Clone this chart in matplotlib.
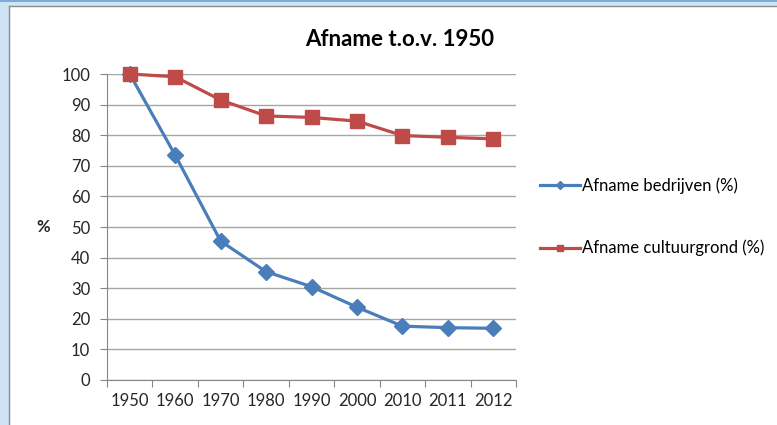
import matplotlib.pyplot as plt
from matplotlib.patches import Rectangle
from matplotlib.lines import Line2D

jaren = ["1950", "1960", "1970", "1980", "1990", "2000", "2010", "2011", "2012"]
bedrijven = [100, 73.5, 45.4, 35.4, 30.5, 23.8, 17.6, 17.1, 16.9]
cultuurgrond = [100, 99.1, 91.5, 86.3, 85.8, 84.6, 79.9, 79.3, 78.8]

plt.rcParams['font.family'] = ['Lato', 'DejaVu Sans']

fig = plt.figure(figsize=(7.77, 4.25), dpi=100)
W, H = 777, 425

# screenshot frame: light blue band left and top, grey border of chart area
fig.patches.append(Rectangle((0, 0), 8/W, 1, transform=fig.transFigure, color="#cfe3f7", zorder=0))
fig.patches.append(Rectangle((0, 1-5/H), 1, 5/H, transform=fig.transFigure, color="#cfe3f7", zorder=0))
fig.lines.append(Line2D([0, 1], [1-1/H, 1-1/H], transform=fig.transFigure, color="#6b9fd6", lw=1.2))
fig.lines.append(Line2D([9/W, 9/W], [0, 1-6/H], transform=fig.transFigure, color="#8c8c8c", lw=1.0))
fig.lines.append(Line2D([9/W, 1], [1-6/H, 1-6/H], transform=fig.transFigure, color="#8c8c8c", lw=1.0))

ax = fig.add_axes([107/W, 1-380/H, (516-107)/W, (380-74)/H])
x = [i + 0.5 for i in range(len(jaren))]

ax.plot(x, bedrijven, color="#4a7ebb", lw=2.3, marker="D", markersize=8,
        label="Afname bedrijven (%)", clip_on=False, zorder=3)
ax.plot(x, cultuurgrond, color="#be4b48", lw=2.3, marker="s", markersize=9.5,
        label="Afname cultuurgrond (%)", clip_on=False, zorder=4)

ax.set_xlim(0, len(jaren))
ax.set_ylim(0, 100)
ax.set_yticks(range(0, 101, 10))
ax.set_xticks(range(len(jaren) + 1))
ax.set_xticklabels([])
ax.set_xticks(x, minor=True)
ax.set_xticklabels(jaren, minor=True)
ax.tick_params(axis="x", which="minor", length=0, pad=9, labelsize=12, colors="#262626")
ax.tick_params(axis="x", which="major", length=5, color="#868686", direction="out")
ax.tick_params(axis="y", length=5, color="#868686", direction="out", labelsize=12,
               labelcolor="#262626", pad=7)
ax.grid(axis="y", color="#a6a6a6", lw=1.0)
ax.set_axisbelow(True)
for s in ["top", "right"]:
    ax.spines[s].set_visible(False)
for s in ["left", "bottom"]:
    ax.spines[s].set_color("#868686")

ax.set_ylabel("%", rotation=0, fontsize=12, fontweight="bold", va="center", color="#262626")
ax.yaxis.set_label_coords(-0.155, 0.5)

fig.text(400/W, 1-40/H, "Afname t.o.v. 1950", ha="center", va="center",
         fontsize=16, fontweight="bold", color="#000000")

ax.legend(loc="center left", bbox_to_anchor=(533/W, 1-217/H), bbox_transform=fig.transFigure,
          frameon=False, fontsize=12, handlelength=2.4, labelspacing=2.75, handletextpad=0.15,
          markerscale=0.5, borderaxespad=0)

fig.savefig("out.png", dpi=100)
